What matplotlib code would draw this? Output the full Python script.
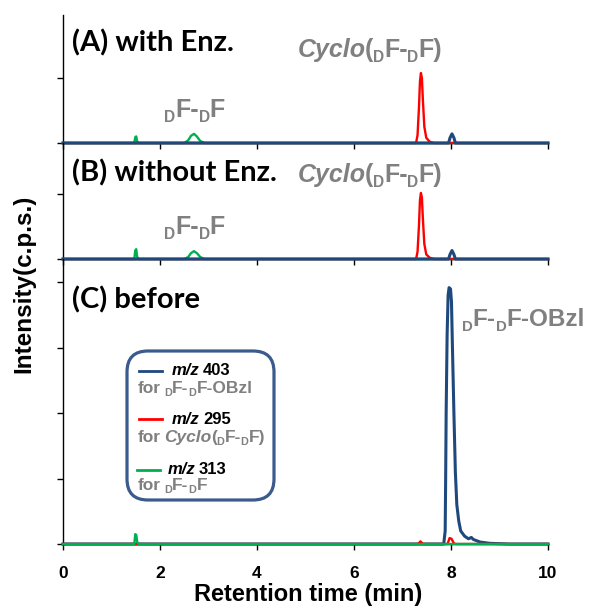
import matplotlib
matplotlib.use("Agg")
import matplotlib.pyplot as plt
from matplotlib.patches import FancyBboxPatch

plt.rcParams['font.family'] = ['Liberation Sans', 'DejaVu Sans']
plt.rcParams['font.weight'] = 'bold'

# ---------------- data ----------------
x_ticks = [0, 2, 4, 6, 8, 10]
x_tick_labels = ["0", "2", "4", "6", "8", "10"]
panel_titles = ["(A) with Enz.", "(B) without Enz.", "(C) before"]

# Panel A (with enzyme)
a_blue_t = [0.0, 7.95, 7.98, 8.02, 8.06, 8.09, 10.0]
a_blue_i = [0.0, 0.0, 0.08, 0.14, 0.08, 0.0, 0.0]
a_red_t = [0.0, 7.28, 7.31, 7.34, 7.36, 7.38, 7.40, 7.42, 7.45, 7.49, 7.56, 7.65, 10.0]
a_red_i = [0.0, 0.0, 0.12, 0.55, 0.94, 1.07, 0.99, 0.66, 0.25, 0.08, 0.02, 0.0, 0.0]
a_green_t = [0.0, 1.47, 1.49, 1.51, 1.53, 1.56, 2.50, 2.58, 2.64, 2.70, 2.76, 2.83, 2.92, 10.0]
a_green_i = [0.0, 0.0, 0.09, 0.10, 0.02, 0.0, 0.0, 0.04, 0.11, 0.14, 0.10, 0.03, 0.0, 0.0]

# Panel B (without enzyme)
b_blue_t = [0.0, 7.95, 7.98, 8.02, 8.06, 8.09, 10.0]
b_blue_i = [0.0, 0.0, 0.07, 0.13, 0.07, 0.0, 0.0]
b_red_t = [0.0, 7.28, 7.31, 7.34, 7.36, 7.38, 7.40, 7.42, 7.45, 7.49, 7.56, 7.65, 10.0]
b_red_i = [0.0, 0.0, 0.11, 0.52, 0.90, 1.01, 0.94, 0.62, 0.23, 0.07, 0.02, 0.0, 0.0]
b_green_t = [0.0, 1.47, 1.49, 1.51, 1.53, 1.56, 2.50, 2.58, 2.64, 2.70, 2.76, 2.83, 2.92, 10.0]
b_green_i = [0.0, 0.0, 0.13, 0.15, 0.03, 0.0, 0.0, 0.03, 0.09, 0.12, 0.09, 0.03, 0.0, 0.0]

# Panel C (before)
c_blue_t = [0.0, 7.85, 7.88, 7.89, 7.90, 7.92, 7.94, 7.96, 7.99, 8.01, 8.03, 8.06,
            8.09, 8.12, 8.16, 8.20, 8.28, 8.36, 8.42, 8.46, 8.60, 8.80, 9.20, 10.0]
c_blue_i = [0.0, 0.0, 0.2, 1.0, 2.0, 3.2, 3.8, 3.92, 3.9, 3.7, 3.0, 2.0,
            1.1, 0.6, 0.35, 0.2, 0.12, 0.08, 0.10, 0.07, 0.03, 0.01, 0.0, 0.0]
c_red_t = [0.0, 7.32, 7.37, 7.42, 7.93, 7.97, 8.01, 8.06, 8.10, 10.0]
c_red_i = [0.0, 0.0, 0.04, 0.0, 0.0, 0.09, 0.08, 0.01, 0.0, 0.0]
c_green_t = [0.0, 1.47, 1.49, 1.51, 1.53, 1.56, 10.0]
c_green_i = [0.0, 0.0, 0.15, 0.14, 0.03, 0.0, 0.0]

legend_mz = ["403", "295", "313"]

# ---------------- styles ----------------
BLUE = "#1F497D"
RED = "#FF0000"
GREEN = "#00B050"
GRAY = "#808080"
BOX = "#3B5B8C"

W, H = 590, 608
fig = plt.figure(figsize=(W / 100, H / 100), dpi=100)

left_px, right_px = 63, 548
tops_px = [15, 143, 259]
bots_px = [143, 259, 544]
px_per_unit = 65.4
y_ticks = [[0, 1], [0, 1], [0, 1, 2, 3, 4]]

traces = [
    [(a_green_t, a_green_i, GREEN, 1.7), (a_red_t, a_red_i, RED, 1.7), (a_blue_t, a_blue_i, BLUE, 2.2)],
    [(b_green_t, b_green_i, GREEN, 1.7), (b_red_t, b_red_i, RED, 1.7), (b_blue_t, b_blue_i, BLUE, 2.2)],
    [(c_blue_t, c_blue_i, BLUE, 2.2), (c_red_t, c_red_i, RED, 1.7), (c_green_t, c_green_i, GREEN, 1.7)],
]

axes = []
for k in range(3):
    t, b = tops_px[k], bots_px[k]
    ax = fig.add_axes([left_px / W, 1 - b / H, (right_px - left_px) / W, (b - t) / H])
    ax.set_xlim(0, 10)
    ax.set_ylim(0, (b - t) / px_per_unit)
    for tt, ii, col, lw in traces[k]:
        ax.plot(tt, ii, color=col, lw=lw, clip_on=False, zorder=3,
                solid_joinstyle='round')
    ax.set_xticks(x_ticks)
    ax.set_yticks(y_ticks[k])
    ax.tick_params(direction='out', length=4, width=1, color='black',
                   labelleft=False, labelbottom=(k == 2))
    for s in ['top', 'right']:
        ax.spines[s].set_visible(False)
    ax.spines['left'].set_linewidth(1)
    ax.spines['bottom'].set_linewidth(1)
    ax.patch.set_alpha(0)
    axes.append(ax)

axc = axes[2]
axc.set_xticks(x_ticks, x_tick_labels, fontsize=12.5, fontweight='bold',
               family='Liberation Sans')
axc.tick_params(axis='x', pad=12)

# ---------------- overlay in pixel coordinates ----------------
ov = fig.add_axes([0, 0, 1, 1], zorder=10)
ov.set_xlim(0, W)
ov.set_ylim(H, 0)
ov.axis('off')
renderer = fig.canvas.get_renderer()


def rich(x, y, pieces, size, color):
    """Draw a run of text pieces: (text, rel_size, style, drop_em, gap_em)."""
    em = size * 100 / 72
    for txt, rel, style, drop, gap in pieces:
        t = ov.text(x, y + drop * em, txt, fontsize=size * rel, fontstyle=style,
                    fontweight='bold', color=color, ha='left', va='baseline')
        x += t.get_window_extent(renderer=renderer).width + gap * em


SUB = ("D", 0.62, 'normal', 0.2, 0.0)
DFDF = [SUB, ("F-", 1, 'normal', 0, -0.01), SUB, ("F", 1, 'normal', 0, 0)]
CYCLO = [("Cyclo", 1, 'italic', 0, -0.05), ("(", 1, 'normal', 0, -0.01), SUB,
         ("F-", 1, 'normal', 0, -0.01), SUB, ("F)", 1, 'normal', 0, 0)]
OBZL = [SUB, ("F-", 1, 'normal', 0, -0.01), SUB, ("F-OBzl", 1, 'normal', 0, 0)]
FOR = [("for", 1, 'normal', 0, 0.2)]

# panel titles
title_kw = dict(fontsize=21, fontweight='bold', family='Lato', va='baseline', ha='left')
ov.text(72, 51, panel_titles[0], **title_kw)
ov.text(72, 181, panel_titles[1], **title_kw)
ov.text(72, 308, panel_titles[2], **title_kw)

rich(298, 57, CYCLO, 18, GRAY)
rich(298, 182, CYCLO, 18, GRAY)
rich(164, 117, DFDF, 18, GRAY)
rich(164, 234, DFDF, 18, GRAY)
rich(462, 326, OBZL, 17.5, GRAY)

# legend box
box = FancyBboxPatch((127, 351), 147, 149, boxstyle="round,pad=0,rounding_size=21",
                     fc='white', ec=BOX, lw=2.3)
ov.add_patch(box)
leg_cols = [BLUE, RED, GREEN]
leg_line_y = [371, 419, 470]
leg_mz_base = [375, 424, 474]
leg_for_base = [393, 442, 490]
leg_for = [FOR + OBZL, FOR + CYCLO, FOR + DFDF]
leg_x_line = [139, 139, 137]
leg_x_txt = [172, 172, 168]
for j in range(3):
    ov.plot([leg_x_line[j], leg_x_line[j] + 23], [leg_line_y[j]] * 2, color=leg_cols[j], lw=2)
    rich(leg_x_txt[j], leg_mz_base[j],
         [("m/z", 1, 'italic', 0, 0.2), (legend_mz[j], 1, 'normal', 0, 0)], 12, 'black')
    rich(138, leg_for_base[j], leg_for[j], 12.5, GRAY)

# axis labels
ov.text(308, 601, "Retention time (min)", fontsize=17, fontweight='bold', ha='center',
        va='baseline')
ov.text(30, 284, "Intensity(c.p.s.)", fontsize=17.5, fontweight='bold', ha='center',
        va='baseline', rotation=90, rotation_mode='anchor')

fig.savefig("out.png", dpi=100)
